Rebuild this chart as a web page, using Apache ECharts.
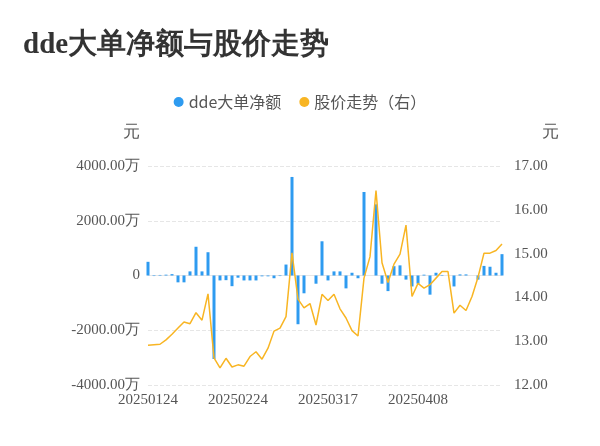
<!DOCTYPE html>
<html><head><meta charset="utf-8">
<script src="https://cdn.jsdelivr.net/npm/echarts@6/dist/echarts.min.js"></script>
<style>html,body{margin:0;padding:0;background:#fff}#c{width:600px;height:446px}</style>
</head><body><div id="c"></div>
<script>
const dates=['20250124','20250127','20250205','20250206','20250207','20250210','20250211','20250212','20250213','20250214','20250217','20250218','20250219','20250220','20250221','20250224','20250225','20250226','20250227','20250228','20250303','20250304','20250305','20250306','20250307','20250310','20250311','20250312','20250313','20250314','20250317','20250318','20250319','20250320','20250321','20250324','20250325','20250326','20250327','20250328','20250331','20250401','20250402','20250403','20250407','20250408','20250409','20250410','20250411','20250414','20250415','20250416','20250417','20250418','20250421','20250422','20250423','20250424','20250425','20250428'];
const ddeValues=[500,-20,20,30,50,-250,-250,150,1050,150,850,-3050,-180,-170,-390,-80,-180,-180,-180,-30,-30,-100,-20,400,3600,-1780,-650,0,-300,1250,-180,150,150,-470,100,-100,3050,0,2600,-300,-570,340,370,-150,-400,-300,30,-700,100,20,0,-400,40,40,0,-150,350,320,100,780];
const priceValues=[12.91,12.92,12.93,13.03,13.16,13.30,13.44,13.40,13.65,13.48,14.08,12.62,12.39,12.61,12.41,12.46,12.43,12.65,12.76,12.59,12.84,13.23,13.30,13.56,15.02,13.96,13.76,13.86,13.37,14.07,13.93,14.07,13.74,13.53,13.24,13.12,14.44,14.93,16.44,14.79,14.34,14.76,14.99,15.65,14.02,14.32,14.21,14.29,14.44,14.59,14.59,13.64,13.82,13.70,14.02,14.46,15.01,15.01,15.07,15.22];
const chart=echarts.init(document.getElementById('c'));
const txt={color:'#555',fontSize:15,fontFamily:'Liberation Serif'};
chart.setOption({
 animation:false,
 title:{text:'dde大单净额与股价走势',left:18,top:26,textStyle:{fontSize:29,fontWeight:'bold',color:'#333',fontFamily:'Liberation Serif'}},
 legend:{top:89,left:'center',itemWidth:10,itemHeight:10,itemGap:18,textStyle:{fontSize:16,color:'#555',fontFamily:'Noto Sans CJK SC'},
   data:[{name:'dde大单净额',icon:'circle'},{name:'股价走势（右）',icon:'circle'}]},
 grid:{left:148,right:98,top:166,bottom:61},
 xAxis:{type:'category',data:dates,boundaryGap:false,
   axisLine:{show:true,lineStyle:{color:'#e6e6e6'}},axisTick:{show:false},
   axisLabel:{interval:14,color:'#555',fontSize:15,fontFamily:'Liberation Serif',margin:8}},
 yAxis:[{type:'value',min:-4000,max:4000,interval:2000,name:'元',nameLocation:'end',nameGap:25,
   nameTextStyle:{color:'#555',fontSize:17,align:'right',padding:[0,8,0,0]},
   axisLabel:Object.assign({formatter:v=>v===0?'0':v.toFixed(2)+'万'},txt),
   axisLine:{show:false},axisTick:{show:false},splitLine:{lineStyle:{type:'dashed',color:'#e6e6e6'}}},
  {type:'value',min:12,max:17,interval:1,name:'元',nameLocation:'end',nameGap:25,
   nameTextStyle:{color:'#555',fontSize:17,align:'left',padding:[0,0,0,40]},
   axisLabel:Object.assign({formatter:v=>v.toFixed(2),margin:12},txt),
   axisLine:{show:false},axisTick:{show:false},splitLine:{show:false}}],
 series:[
  {name:'dde大单净额',type:'bar',data:ddeValues,barWidth:3,itemStyle:{color:'#2e9bf0'}},
  {name:'股价走势（右）',type:'line',yAxisIndex:1,data:priceValues,symbol:'none',lineStyle:{width:1.5,color:'#f8b523'},itemStyle:{color:'#f8b523'}}
 ]
});
</script></body></html>
